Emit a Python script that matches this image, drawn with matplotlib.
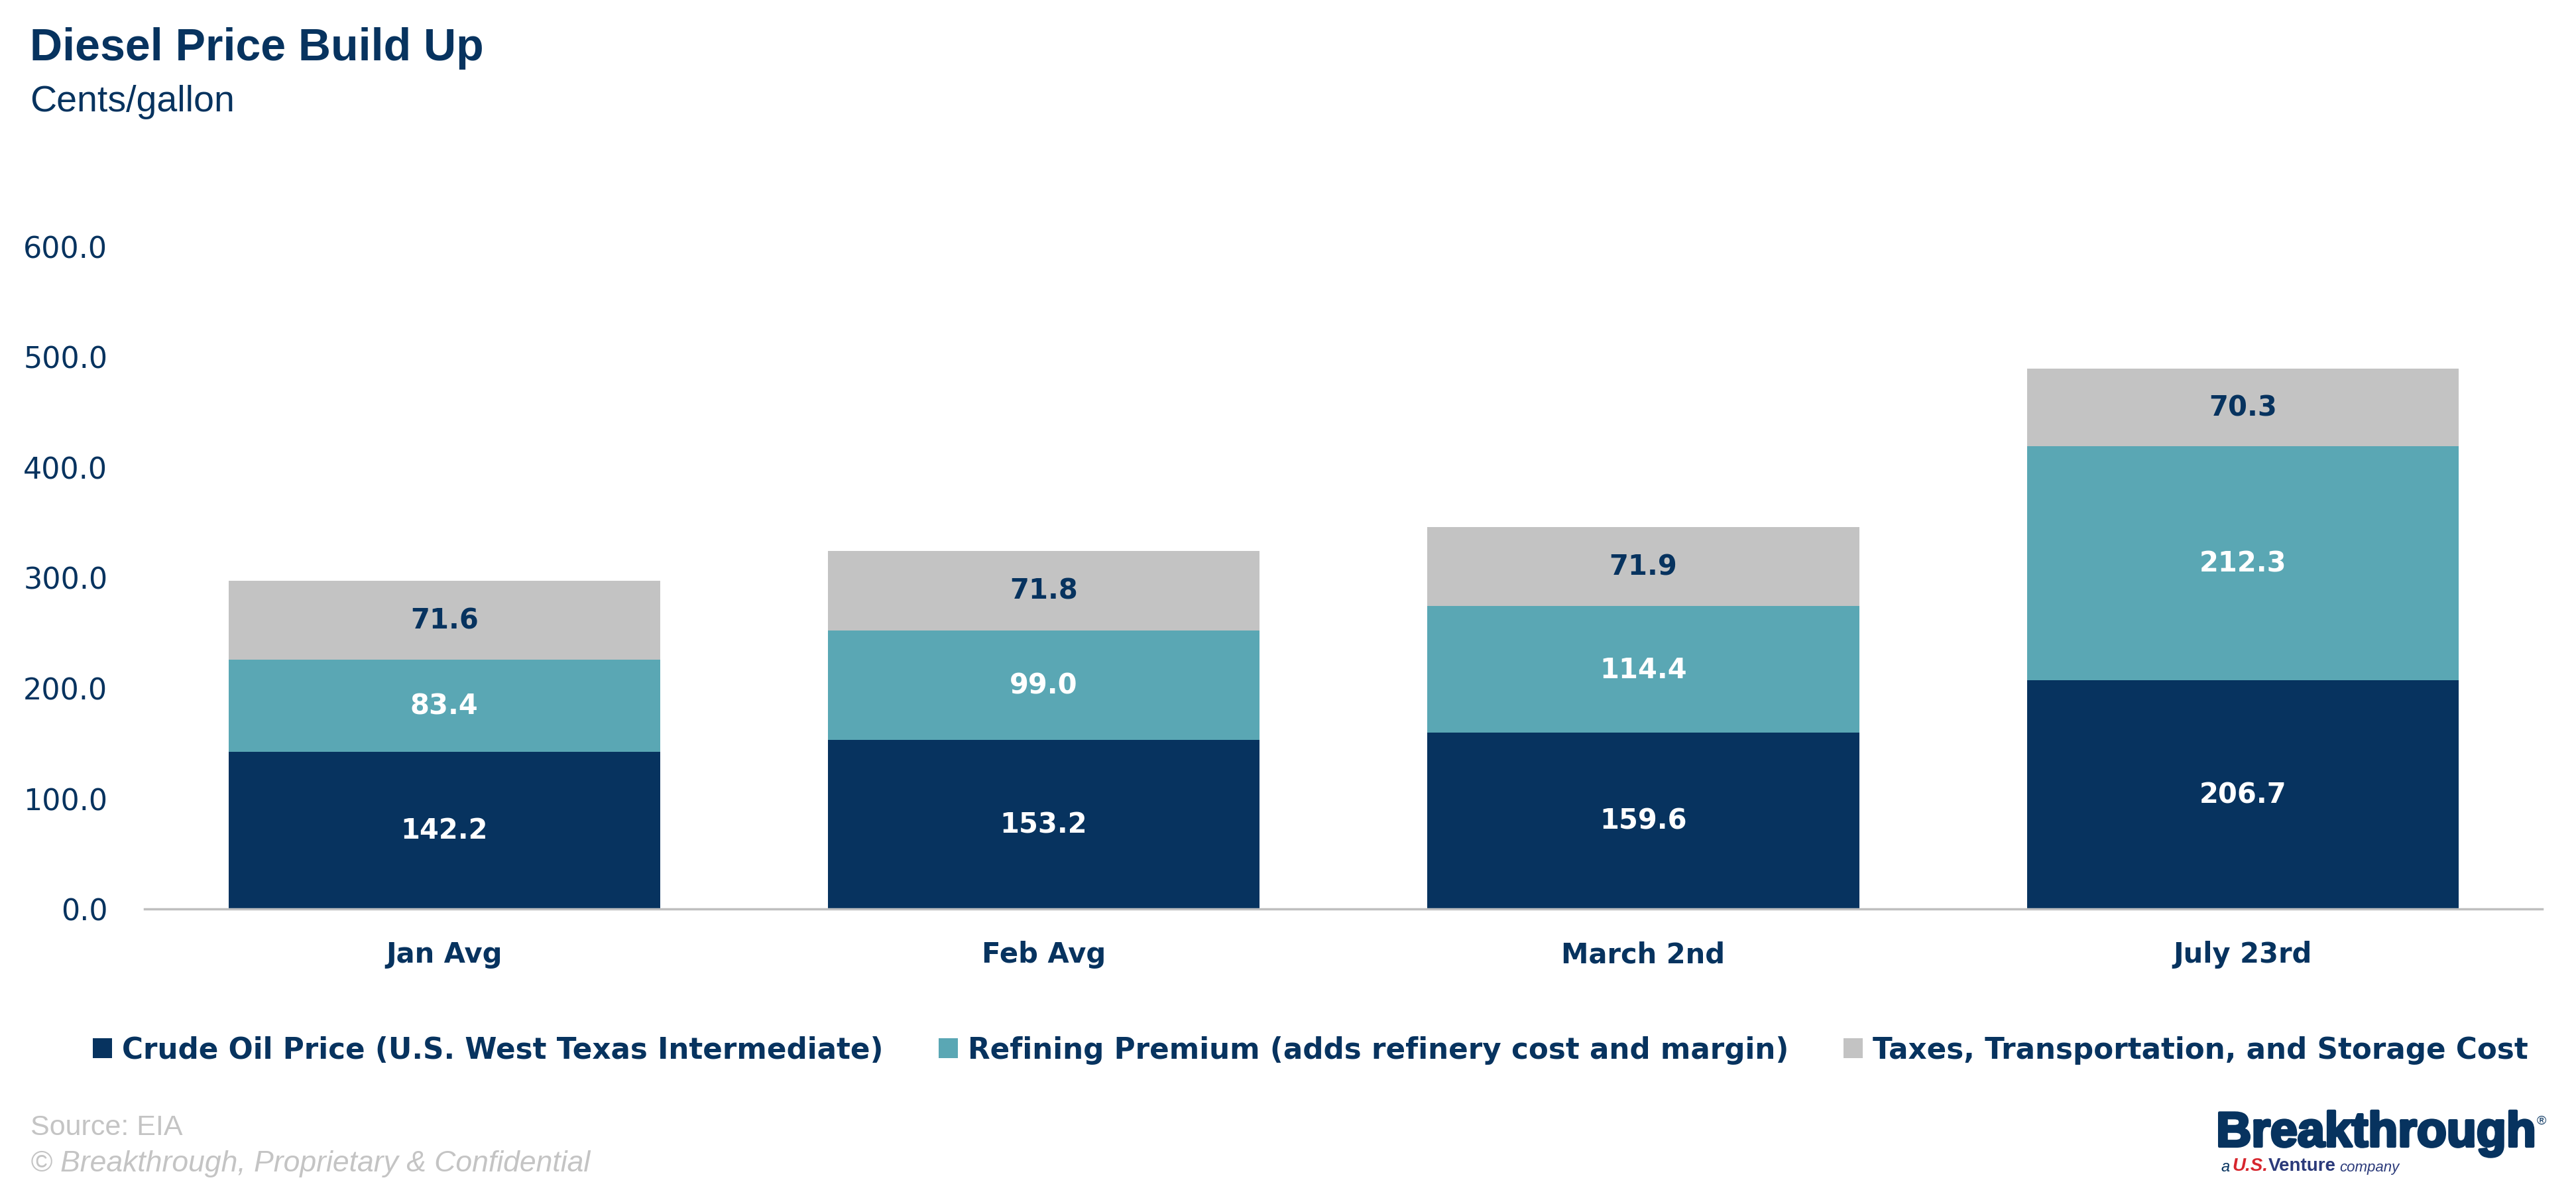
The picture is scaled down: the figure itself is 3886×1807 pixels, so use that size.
import matplotlib
matplotlib.use('Agg')
import matplotlib.pyplot as plt
import matplotlib.patheffects as pe
import numpy as np

plt.rcParams['font.family'] = ['Liberation Sans', 'DejaVu Sans']
wide = ['DejaVu Sans']

# data
categories = ['Jan Avg', 'Feb Avg', 'March 2nd', 'July 23rd']
crude = [142.2, 153.2, 159.6, 206.7]
refining = [83.4, 99.0, 114.4, 212.3]
taxes = [71.6, 71.8, 71.9, 70.3]
series_names = ['Crude Oil Price (U.S. West Texas Intermediate)',
                'Refining Premium (adds refinery cost and margin)',
                'Taxes, Transportation, and Storage Cost']
y_ticks = [0, 100, 200, 300, 400, 500, 600]

navy = '#07335F'
teal = '#5AA7B4'
grey = '#C3C3C3'

fig = plt.figure(figsize=(38.86, 18.08), dpi=100)
ax = fig.add_axes([0.0561, 0.2412, 0.9309, 0.553])

x = np.arange(len(categories))
w = 0.72
b1 = ax.bar(x, crude, w, color=navy, label=series_names[0])
b2 = ax.bar(x, refining, w, bottom=crude, color=teal, label=series_names[1])
bottom3 = np.array(crude) + np.array(refining)
b3 = ax.bar(x, taxes, w, bottom=bottom3, color=grey, label=series_names[2])

for bars, c in [(b1, 'white'), (b2, 'white'), (b3, navy)]:
    ax.bar_label(bars, fmt='%.1f', label_type='center', color=c, fontsize=30,
                 fontweight='bold', family=wide)

ax.set_xlim(-0.5, len(categories) - 0.5)
ax.set_ylim(0, 600)
ax.set_yticks(y_ticks)
ax.set_yticklabels(['%.1f' % v for v in y_ticks], family=wide)
ax.set_xticks(x)
ax.set_xticklabels(categories, fontweight='bold', family=wide)
ax.tick_params(axis='y', length=0, pad=40, labelsize=32, labelcolor=navy)
ax.tick_params(axis='x', length=0, pad=34, labelsize=30, labelcolor=navy)
for s in ['top', 'right', 'left']:
    ax.spines[s].set_visible(False)
ax.spines['bottom'].set_color('#BFBFBF')
ax.spines['bottom'].set_linewidth(2.5)

leg = fig.legend(handles=[b1, b2, b3], loc='center', bbox_to_anchor=(0.5088, 0.1235),
                 ncol=3, frameon=False, prop={'family': wide, 'size': 31.4, 'weight': 'bold'},
                 handlelength=0.66, handleheight=0.66, handletextpad=0.35, columnspacing=1.9)
for t in leg.get_texts():
    t.set_color(navy)

# titles
fig.text(0.0116, 0.9497, 'Diesel Price Build Up', fontsize=49, fontweight='bold', color=navy, va='baseline')
fig.text(0.0116, 0.907, 'Cents/gallon', fontsize=40, color=navy, va='baseline')

# footer
fig.text(0.0118, 0.0531, 'Source: EIA', fontsize=31, color='#C4C4C4', va='baseline')
fig.text(0.0118, 0.0227, '\u00a9 Breakthrough, Proprietary & Confidential', fontsize=32,
         color='#C4C4C4', style='italic', va='baseline')

# logo
fig.text(0.9845, 0.0431, 'Breakthrough', fontsize=53, fontweight='bold', color=navy,
         ha='right', va='baseline',
         path_effects=[pe.withStroke(linewidth=3, foreground=navy)])
fig.text(0.9885, 0.062, '\u00ae', fontsize=14, color=navy, ha='right', va='baseline')
t1 = fig.text(0.8622, 0.0227, 'a', fontsize=17, color=navy, style='italic', va='baseline')
t2 = ax.annotate('U.S.', xy=(1, 0), xycoords=t1, xytext=(3, 0), textcoords='offset points',
                 fontsize=20, color='#D7262E', fontweight='bold', style='italic', va='bottom')
t3 = ax.annotate('Venture', xy=(1, 0), xycoords=t2, xytext=(0, 0), textcoords='offset points',
                 fontsize=20, color='#2B3A7A', fontweight='bold', va='bottom')
ax.annotate('company', xy=(1, 0), xycoords=t3, xytext=(4, 0), textcoords='offset points',
            fontsize=16, color='#2B3A7A', style='italic', va='bottom')

fig.savefig('out.png', dpi=100)
